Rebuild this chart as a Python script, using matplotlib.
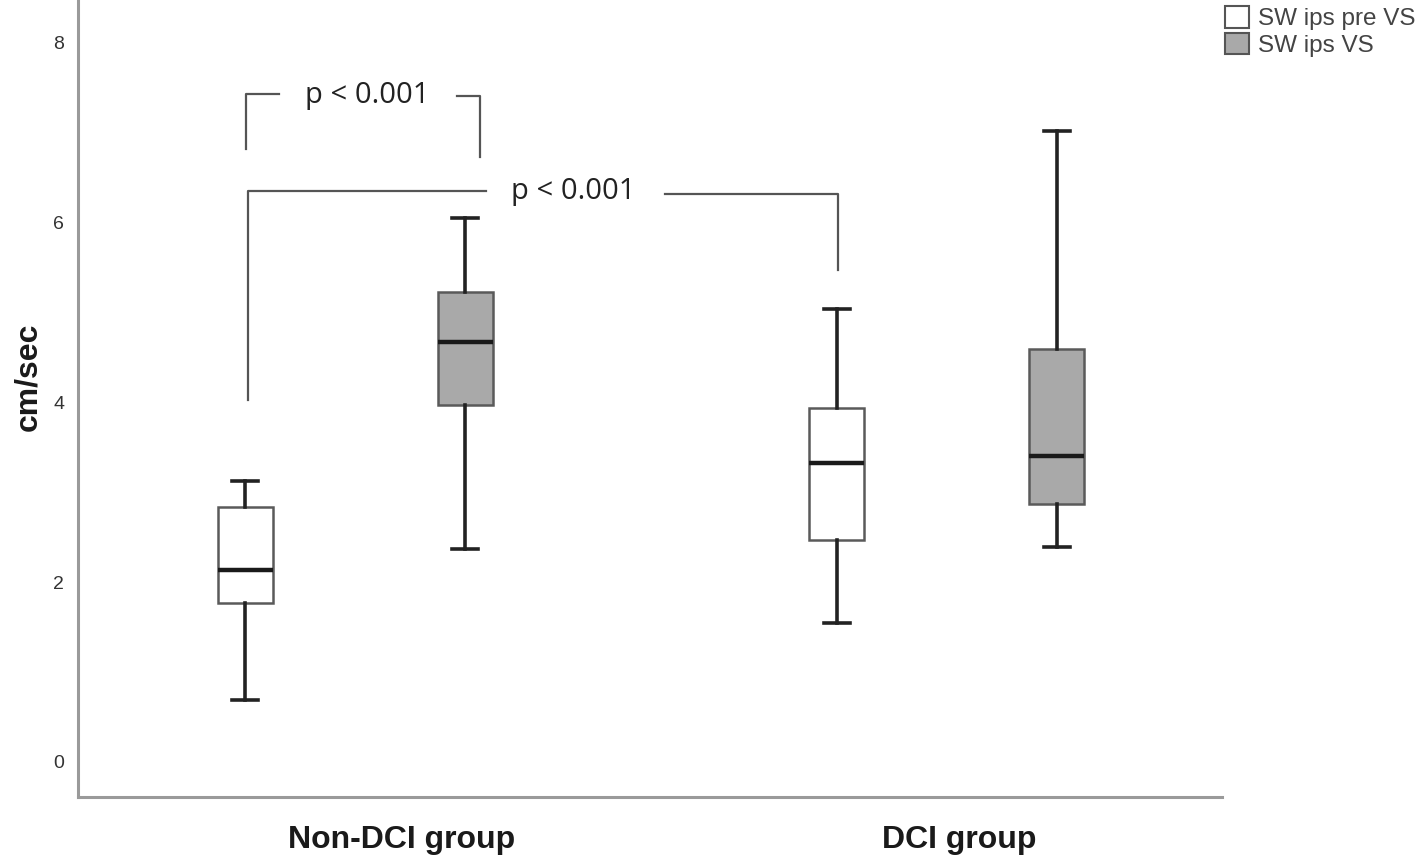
import numpy as np
import matplotlib
matplotlib.use('Agg')
import matplotlib.pyplot as plt
from matplotlib.patches import Patch

# box statistics (cm/sec)
groups = ['Non-DCI group', 'DCI group']
series = ['SW ips pre VS', 'SW ips VS']
whislo = [0.69, 2.37, 1.55, 2.39]
q1 = [1.77, 3.97, 2.47, 2.87]
med = [2.14, 4.67, 3.33, 3.40]
q3 = [2.84, 5.23, 3.94, 4.59]
whishi = [3.13, 6.05, 5.04, 7.02]
positions = [1.0, 2.0, 3.69, 4.69]
group_ticks = [1.71, 4.245]
yticks = [0, 2, 4, 6, 8]

fills = ['white', '#a9a9a9', 'white', '#a9a9a9']

fig = plt.figure(figsize=(14.24, 8.57), dpi=100)
ax = fig.add_axes([78/1424, 60/857, (1222-78)/1424, 797/857])

stats = []
for i in range(len(med)):
    stats.append(dict(whislo=whislo[i], q1=q1[i], med=med[i], q3=q3[i],
                      whishi=whishi[i], fliers=[]))

bp = ax.bxp(stats, positions=positions, widths=0.25, capwidths=0.12,
            patch_artist=True, showfliers=False,
            boxprops=dict(edgecolor='#5a5a5a', linewidth=1.8),
            whiskerprops=dict(color='#222222', linewidth=2.6),
            capprops=dict(color='#222222', linewidth=2.6),
            medianprops=dict(color='#1a1a1a', linewidth=3.2))
for patch, c in zip(bp['boxes'], fills):
    patch.set_facecolor(c)

ax.set_xlim(1 + (78-245)/220, 1 + (1222-245)/220)
ax.set_ylim((762-797)/89.9, 762/89.9)

ax.set_yticks(yticks)
ax.set_yticklabels([str(v) for v in yticks], fontsize=14, color='#333333',
                   family='Liberation Sans')
ax.set_xticks(group_ticks)
ax.set_xticklabels(groups, fontsize=23, fontweight='bold', color='#1a1a1a',
                   family='Liberation Sans')
ax.tick_params(axis='both', length=0)
ax.tick_params(axis='y', pad=10)
ax.tick_params(axis='x', pad=20)
fig.text(28/1424, 1 - 377/857, 'cm/sec', rotation=90, ha='center', va='center',
         fontsize=23, fontweight='bold', family='Liberation Sans', color='#1a1a1a')

for s in ['top', 'right']:
    ax.spines[s].set_visible(False)
for s in ['left', 'bottom']:
    ax.spines[s].set_color('#9a9a9a')
    ax.spines[s].set_linewidth(2.2)

# significance brackets
def px(x):
    return 1 + (x-245)/220
def py(y):
    return (762-y)/89.9

lc = '#555555'
lw = 1.6
# bracket 1: Non-DCI pre vs VS
ax.plot([px(246), px(246), px(279)], [py(149), py(94), py(94)], color=lc, lw=lw)
ax.plot([px(457), px(480), px(480)], [py(96), py(96), py(157)], color=lc, lw=lw)
ax.text(px(367), py(95), 'p < 0.001', ha='center', va='center', fontsize=21,
        color='#222222', family='Open Sans')
# bracket 2: Non-DCI pre vs DCI pre
ax.plot([px(248), px(248), px(486)], [py(400), py(191), py(191)], color=lc, lw=lw)
ax.plot([px(665), px(838), px(838)], [py(194), py(194), py(270)], color=lc, lw=lw)
ax.text(px(573), py(191), 'p < 0.001', ha='center', va='center', fontsize=21,
        color='#222222', family='Open Sans')

handles = [Patch(facecolor=fills[0], edgecolor='#555555', linewidth=1.5, label=series[0]),
           Patch(facecolor=fills[1], edgecolor='#555555', linewidth=1.5, label=series[1])]
leg = fig.legend(handles=handles, loc='upper left', bbox_to_anchor=(1219/1424, 1.0),
                 frameon=False, handlelength=1.0, handleheight=1.0,
                 handletextpad=0.35, labelspacing=0.1, borderaxespad=0,
                 borderpad=0.25, prop=dict(family='Liberation Sans', size=17.5))
for t in leg.get_texts():
    t.set_color('#444444')

fig.savefig('out.png', dpi=100)
